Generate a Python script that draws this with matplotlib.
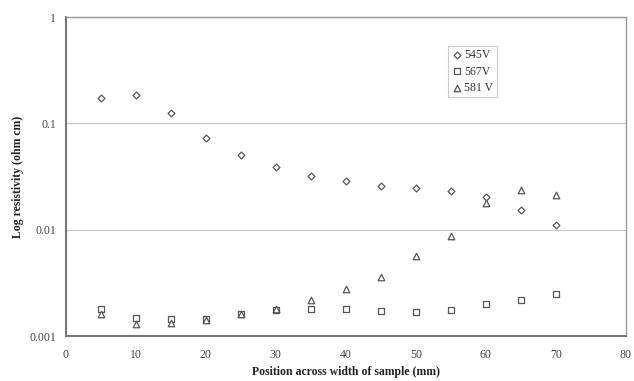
import matplotlib
matplotlib.use("Agg")
import matplotlib.pyplot as plt
from matplotlib.ticker import FixedLocator, FixedFormatter, NullLocator

plt.rcParams['font.family'] = ['Liberation Serif', 'DejaVu Serif']

positions = [5, 10, 15, 20, 25, 30, 35, 40, 45, 50, 55, 60, 65, 70]
v545 = [0.173, 0.185, 0.126, 0.0728, 0.050, 0.0388, 0.0318, 0.0287, 0.0258, 0.0247, 0.0231, 0.0203, 0.0153, 0.011]
v567 = [0.0018, 0.00148, 0.00145, 0.00145, 0.0016, 0.00175, 0.0018, 0.0018, 0.00172, 0.00168, 0.00175, 0.0020, 0.0022, 0.0025]
v581 = [0.0016, 0.0013, 0.00134, 0.00141, 0.0016, 0.00179, 0.00216, 0.00276, 0.00358, 0.00565, 0.0087, 0.0178, 0.0237, 0.021]
labels = ['545V', '567V', '581 V']
yticks = [0.001, 0.01, 0.1, 1]
ytick_labels = ['0.001', '0.01', '0.1', '1']
xticks = [0, 10, 20, 30, 40, 50, 60, 70, 80]

fig = plt.figure(figsize=(6.34, 3.81), dpi=100)
ax = fig.add_axes([0.104, 0.118, 0.883, 0.837])
ec = '#555555'
ax.scatter(positions, v545, marker='D', s=12, facecolors='white', edgecolors=ec, linewidths=0.9, label=labels[0], zorder=3)
ax.scatter(positions, v567, marker='s', s=22, facecolors='white', edgecolors=ec, linewidths=0.9, label=labels[1], zorder=3)
ax.scatter(positions, v581, marker='^', s=22, facecolors='white', edgecolors=ec, linewidths=0.9, label=labels[2], zorder=3)

ax.set_yscale('log')
ax.set_ylim(0.001, 1)
ax.set_xlim(0, 80)
ax.yaxis.set_major_locator(FixedLocator(yticks))
ax.yaxis.set_major_formatter(FixedFormatter(ytick_labels))
ax.yaxis.set_minor_locator(NullLocator())
ax.set_xticks(xticks)
ax.tick_params(axis='y', length=0, labelsize=8.5, colors='#444444', pad=7)
ax.tick_params(axis='x', length=0, labelsize=8.5, colors='#444444', pad=9)
ax.grid(axis='y', which='major', color='#c8c8c8', linewidth=0.8)
ax.set_axisbelow(True)
for side in ['left', 'bottom']:
    ax.spines[side].set_color('#777777')
    ax.spines[side].set_linewidth(1.5)
for side in ['top', 'right']:
    ax.spines[side].set_color('#999999')
    ax.spines[side].set_linewidth(1.0)

ax.set_xlabel('Position across width of sample (mm)', fontsize=8.5, fontweight='bold', color='#222222', labelpad=4)
ax.set_ylabel('Log resistivity (ohm cm)', fontsize=8.5, fontweight='bold', color='#222222', labelpad=4)

leg = ax.legend(loc='upper left', bbox_to_anchor=(0.682, 0.91), fontsize=8.5, frameon=True, fancybox=False,
                handletextpad=0.2, borderpad=0.3, labelspacing=0.35, handlelength=0.9, borderaxespad=0)
leg.get_frame().set_edgecolor('#c0c0c0')
leg.get_frame().set_linewidth(0.8)
for t in leg.get_texts():
    t.set_color('#333333')

fig.savefig('out.png', dpi=100)
